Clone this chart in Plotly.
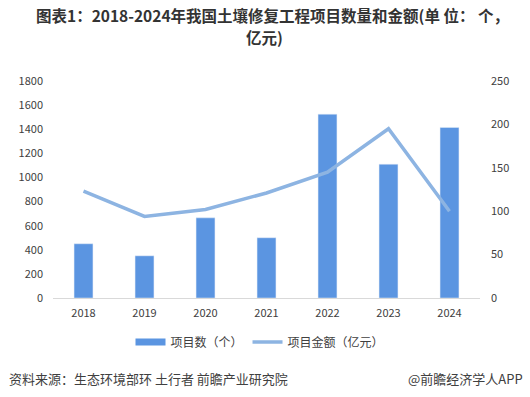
import plotly.graph_objects as go

years = ["2018", "2019", "2020", "2021", "2022", "2023", "2024"]
project_count = [450, 350, 665, 500, 1525, 1110, 1415]
project_amount = [123, 94, 102, 121, 145, 195, 100]

bar_color = "#5B95E1"
line_color = "#8DB4E2"
font_family = "Noto Sans CJK SC, Noto Sans, sans-serif"

W, H = 530, 397
L, R, T, B = 53, 50, 81, 99
plot_w = W - L - R
plot_h = H - T - B


def px_x(x):
    return (x - L) / plot_w


def px_y(y):
    return (H - B - y) / plot_h


fig = go.Figure()
fig.add_trace(go.Bar(
    x=years, y=project_count, name="项目数（个）",
    marker=dict(color=bar_color), yaxis="y", showlegend=False,
))
# legend stand-in for bars (wide rectangle swatch like the reference)
fig.add_trace(go.Scatter(
    x=[None], y=[None], name="项目数（个）", mode="lines",
    line=dict(color=bar_color, width=7), yaxis="y",
))
fig.add_trace(go.Scatter(
    x=years, y=project_amount, name="项目金额（亿元）",
    mode="lines", line=dict(color=line_color, width=3.5), yaxis="y2",
))

fig.update_layout(
    width=W, height=H,
    paper_bgcolor="white", plot_bgcolor="white",
    margin=dict(l=L, r=R, t=T, b=B, autoexpand=False),
    font=dict(family=font_family, size=11, color="#404040"),
    bargap=0.69,
    showlegend=True,
    hovermode=False,
    legend=dict(
        orientation="h", x=px_x(260), xanchor="center", y=px_y(342), yanchor="middle",
        font=dict(family=font_family, size=12, color="#404040"),
        itemwidth=30, traceorder="normal", bgcolor="rgba(0,0,0,0)",
    ),
    xaxis=dict(
        showgrid=False, showline=True, linecolor="#D9D9D9", linewidth=1,
        ticks="", tickfont=dict(size=11, color="#404040"),
        ticklabelstandoff=5,
    ),
    yaxis=dict(
        range=[0, 1800], dtick=200, showgrid=False, zeroline=False,
        showline=False, ticks="", tickfont=dict(size=11, color="#404040"),
        ticklabelstandoff=9,
    ),
    yaxis2=dict(
        range=[0, 250], dtick=50, overlaying="y", side="right",
        showgrid=False, zeroline=False, showline=False, ticks="",
        tickfont=dict(size=11, color="#404040"), ticklabelstandoff=10,
    ),
    annotations=[
        dict(text="<b>图表1：2018-2024年我国土壤修复工程项目数量和金额(单 位： 个，</b>",
             x=px_x(272), y=px_y(15), xref="paper", yref="paper", showarrow=False,
             xanchor="center", yanchor="middle",
             font=dict(family=font_family, size=15.5, color="#333333")),
        dict(text="<b>亿元)</b>",
             x=px_x(264), y=px_y(37), xref="paper", yref="paper", showarrow=False,
             xanchor="center", yanchor="middle",
             font=dict(family=font_family, size=15.5, color="#333333")),
        dict(text="资料来源：生态环境部环 土行者 前瞻产业研究院",
             x=px_x(7), y=px_y(378), xref="paper", yref="paper", showarrow=False,
             xanchor="left", yanchor="middle",
             font=dict(family=font_family, size=13, color="#404040")),
        dict(text="@前瞻经济学人APP",
             x=px_x(525), y=px_y(378), xref="paper", yref="paper", showarrow=False,
             xanchor="right", yanchor="middle",
             font=dict(family=font_family, size=13, color="#404040")),
    ],
)

fig.write_html(
    "out.html",
    config={"displayModeBar": False, "staticPlot": True},
    post_script="document.body.style.margin='0';document.body.style.overflow='hidden';",
)
